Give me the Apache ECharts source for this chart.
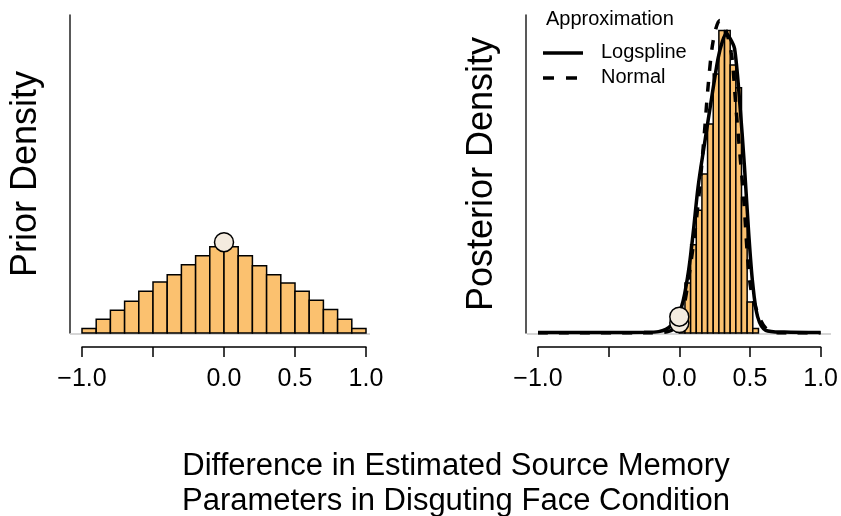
<!DOCTYPE html>
<html lang="en">
<head>
    <meta charset="UTF-8">
    <title>Prior and posterior density</title>
    <script src="https://cdn.jsdelivr.net/npm/echarts@6/dist/echarts.min.js"></script>
    <style>
        html, body { margin: 0; padding: 0; background: #fff; }
        #main { width: 841px; height: 516px; }
    </style>
</head>
<body>
    <div id="main"></div>
    <script>
        // x tick labels (the -0.5 label is dropped in the original)
        var tickLabels = { '-1': '\u22121.0', '-0.5': '', '0': '0.0', '0.5': '0.5', '1': '1.0' };

        // prior histogram
        var priorBreaks = [-1.0, -0.9, -0.8, -0.7, -0.6, -0.5, -0.4, -0.3, -0.2, -0.1, 0.0,
                           0.1, 0.2, 0.3, 0.4, 0.5, 0.6, 0.7, 0.8, 0.9, 1.0];
        var priorDensity = [0.05, 0.15, 0.25, 0.35, 0.46, 0.56, 0.64, 0.75, 0.85, 0.95,
                            0.95, 0.85, 0.74, 0.64, 0.55, 0.46, 0.36, 0.26, 0.15, 0.05];
        var priorPoint = [[0, 1.0]];

        // posterior histogram
        var postBreaks = [0.00, 0.04, 0.08, 0.12, 0.16, 0.20, 0.24, 0.28, 0.32, 0.36,
                          0.40, 0.44, 0.48, 0.52, 0.56];
        var postDensity = [0.09, 0.55, 0.97, 1.35, 1.75, 2.30, 2.85, 3.33, 3.33, 2.95,
                           2.70, 1.49, 0.34, 0.05];

        // density approximations
        var logspline = [[-1.0, 0.005], [-0.5, 0.005], [-0.25, 0.008], [-0.147, 0.015], [-0.054, 0.088],
                         [0.016, 0.29], [0.063, 0.66], [0.098, 1.10], [0.133, 1.61], [0.18, 2.10],
                         [0.227, 2.57], [0.274, 3.02], [0.305, 3.21], [0.332, 3.29], [0.36, 3.24],
                         [0.391, 3.13], [0.426, 2.57], [0.461, 1.83], [0.491, 1.10], [0.519, 0.55],
                         [0.554, 0.18], [0.611, 0.03], [0.742, 0.01], [1.0, 0.005]];
        var normal = [[-1.0, 0.0], [-0.2, 0.0], [-0.07, 0.02], [0.0, 0.11], [0.04, 0.35],
                      [0.075, 0.70], [0.11, 1.10], [0.145, 1.61], [0.18, 2.25], [0.204, 2.72],
                      [0.24, 3.22], [0.286, 3.44], [0.33, 3.33], [0.367, 3.09], [0.379, 2.94],
                      [0.402, 2.46], [0.426, 2.02], [0.456, 1.47], [0.484, 0.81], [0.507, 0.48],
                      [0.554, 0.22], [0.611, 0.055], [0.7, 0.0], [1.0, 0.0]];
        var postPoints = [[0, 0.11], [0, 0.18]];

        var barFill = '#FBC16F';
        var dotFill = '#F4EBDF';
        var font = 'Liberation Sans, Arial, sans-serif';

        function histData(breaks, dens) {
            var out = [];
            for (var i = 0; i < dens.length; i++) {
                out.push([breaks[i], breaks[i + 1], dens[i]]);
            }
            return out;
        }

        function renderHist(params, api) {
            var p0 = api.coord([api.value(0), api.value(2)]);
            var p1 = api.coord([api.value(1), 0]);
            return {
                type: 'rect',
                shape: { x: p0[0], y: p0[1], width: p1[0] - p0[0], height: p1[1] - p0[1] },
                style: { fill: barFill, stroke: '#000', lineWidth: 1.5 }
            };
        }

        function makeX(idx) {
            return {
                gridIndex: idx,
                type: 'value',
                min: -1, max: 1, interval: 0.5,
                position: 'bottom',
                offset: 14,
                axisLine: { onZero: false, lineStyle: { color: '#000', width: 1.5 } },
                axisTick: { length: 10, lineStyle: { color: '#000', width: 1.5 } },
                axisLabel: {
                    fontSize: 25, color: '#000', margin: 20, fontFamily: font,
                    formatter: function (v) { return tickLabels[String(v)]; }
                },
                splitLine: { show: false }
            };
        }

        function makeY(idx, name) {
            return {
                gridIndex: idx,
                type: 'value',
                min: 0, max: 3.5,
                position: 'left',
                offset: 12,
                name: name,
                nameLocation: 'middle',
                nameGap: 26,
                nameTextStyle: { fontSize: 36, color: '#000', fontFamily: font },
                axisLine: { show: true, onZero: false, lineStyle: { color: '#222', width: 1.5 } },
                axisTick: { show: false },
                axisLabel: { show: false },
                splitLine: { show: false }
            };
        }

        var myChart = echarts.init(document.getElementById('main'));

        var option = {
            backgroundColor: '#fff',
            animation: false,
            grid: [
                { left: 82, top: 15, width: 284, height: 318 },
                { left: 538, top: 15, width: 284, height: 318 }
            ],
            xAxis: [makeX(0), makeX(1)],
            yAxis: [makeY(0, 'Prior Density'), makeY(1, 'Posterior Density')],
            graphic: [
                // zero lines
                { type: 'line', shape: { x1: 70, y1: 334, x2: 370, y2: 334 }, style: { stroke: '#c8c8c8', lineWidth: 1.5 }, z: 1 },
                { type: 'line', shape: { x1: 527, y1: 334, x2: 831, y2: 334 }, style: { stroke: '#c8c8c8', lineWidth: 1.5 }, z: 1 },
                // legend
                { type: 'text', left: 546, top: 9, style: { text: 'Approximation', font: '20px ' + font, fill: '#000' } },
                { type: 'line', shape: { x1: 543, y1: 53, x2: 583, y2: 53 }, style: { stroke: '#000', lineWidth: 3.5 } },
                { type: 'line', shape: { x1: 543, y1: 78, x2: 583, y2: 78 }, style: { stroke: '#000', lineWidth: 3.5, lineDash: [11, 12] } },
                { type: 'text', left: 601, top: 42, style: { text: 'Logspline', font: '20px ' + font, fill: '#000' } },
                { type: 'text', left: 601, top: 67, style: { text: 'Normal', font: '20px ' + font, fill: '#000' } },
                // x title
                {
                    type: 'text', x: 456, y: 484,
                    style: {
                        text: 'Difference in Estimated Source Memory\nParameters in Disguting Face Condition',
                        font: '31px ' + font, fill: '#000', align: 'center', verticalAlign: 'middle', lineHeight: 35
                    }
                }
            ],
            series: [
                {
                    type: 'custom', xAxisIndex: 0, yAxisIndex: 0,
                    renderItem: renderHist,
                    data: histData(priorBreaks, priorDensity),
                    encode: { x: [0, 1], y: 2 }, z: 2
                },
                {
                    type: 'scatter', xAxisIndex: 0, yAxisIndex: 0,
                    data: priorPoint, symbolSize: 19,
                    itemStyle: { color: dotFill, borderColor: '#000', borderWidth: 1.5, opacity: 1 }, z: 5
                },
                {
                    type: 'custom', xAxisIndex: 1, yAxisIndex: 1,
                    renderItem: renderHist,
                    data: histData(postBreaks, postDensity),
                    encode: { x: [0, 1], y: 2 }, z: 2
                },
                {
                    type: 'line', xAxisIndex: 1, yAxisIndex: 1,
                    data: logspline, smooth: 0.3, showSymbol: false,
                    lineStyle: { color: '#000', width: 3.5 }, z: 3
                },
                {
                    type: 'line', xAxisIndex: 1, yAxisIndex: 1,
                    data: normal, smooth: 0.3, showSymbol: false,
                    lineStyle: { color: '#000', width: 3.5, type: [10, 11] }, z: 3
                },
                {
                    type: 'scatter', xAxisIndex: 1, yAxisIndex: 1,
                    data: postPoints, symbolSize: 19,
                    itemStyle: { color: dotFill, borderColor: '#000', borderWidth: 1.5, opacity: 1 }, z: 5
                }
            ]
        };

        myChart.setOption(option);
    </script>
</body>
</html>
